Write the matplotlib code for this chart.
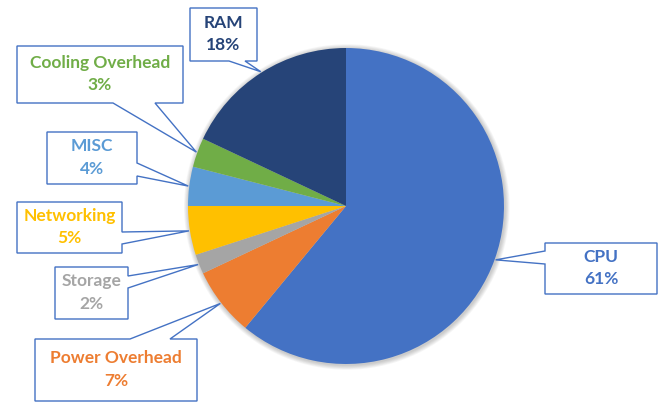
import numpy as np
import matplotlib
matplotlib.use("Agg")
import matplotlib.pyplot as plt
from matplotlib.patches import Polygon, Circle

# Share of total cost by component
categories = ["CPU", "Power Overhead", "Storage", "Networking", "MISC",
              "Cooling Overhead", "RAM"]
shares = [61, 7, 2, 5, 4, 3, 18]
colors = ["#4472C4", "#ED7D31", "#A5A5A5", "#FFC000", "#5B9BD5",
          "#70AD47", "#264478"]

W, H = 661, 403
fig = plt.figure(figsize=(W / 100, H / 100), dpi=100)
ax = fig.add_axes([0, 0, 1, 1])
ax.set_xlim(0, W)
ax.set_ylim(0, H)
ax.set_aspect("equal")
ax.axis("off")

cx, cy_pix, R = 346, 206, 158
cy = H - cy_pix

# soft shadow around the pie
for k in range(1, 7):
    ax.add_patch(Circle((cx + 0.8, cy - 1.0), R + k * 0.8, color="black",
                        alpha=0.035, lw=0, zorder=0))

ax.pie(shares, colors=colors, startangle=90, counterclock=False,
       center=(cx, cy), radius=R, frame=True,
       wedgeprops=dict(linewidth=0, edgecolor="none"))
ax.set_xlim(0, W)
ax.set_ylim(0, H)
ax.axis("off")

# callout boxes: (x0, y0, x1, y1) in pixels from top-left, side of the tail, tail base
callouts = {
    "RAM": ((190, 8, 257, 61), "bottom", (229, 245)),
    "Cooling Overhead": ((17, 46, 183, 103), "bottom", (113, 155)),
    "MISC": ((47, 132, 137, 184), "right", (163, 176)),
    "Networking": ((17, 202, 122, 253), "right", (232, 244)),
    "Storage": ((55, 267, 128, 319), "right", (276, 288)),
    "Power Overhead": ((35, 339, 197, 401), "top", (130, 170)),
    "CPU": ((545, 243, 657, 294), "left", (251, 264)),
}


def callout_vertices(box, side, base, tip):
    x0, y0, x1, y1 = box
    a, b = base
    if side == "bottom":
        pts = [(x0, y0), (x1, y0), (x1, y1), (b, y1), tip, (a, y1), (x0, y1)]
    elif side == "right":
        pts = [(x0, y0), (x1, y0), (x1, a), tip, (x1, b), (x1, y1), (x0, y1)]
    elif side == "top":
        pts = [(x0, y0), (a, y0), tip, (b, y0), (x1, y0), (x1, y1), (x0, y1)]
    else:
        pts = [(x0, y0), (x1, y0), (x1, y1), (x0, y1), (x0, b), tip, (x0, a)]
    return [(x, H - y) for x, y in pts]


total = float(sum(shares))
cum = 0.0
for name, val, col in zip(categories, shares, colors):
    mid = cum + val / 2.0
    cum += val
    ang = np.deg2rad(90 - 360 * mid / total)
    tip = (cx + (R + 1) * np.cos(ang), cy_pix - (R + 1) * np.sin(ang))
    box, side, base = callouts[name]
    verts = callout_vertices(box, side, base, tip)
    ax.add_patch(Polygon(verts, closed=True, facecolor="white",
                         edgecolor="#4472C4", lw=1.0, joinstyle="miter",
                         zorder=5))
    bx = (box[0] + box[2]) / 2
    by = H - (box[1] + box[3]) / 2 + 0.5
    ax.text(bx, by, f"{name}\n{val}%", ha="center", va="center",
            color=col, fontsize=12.5, fontweight="bold", family="Lato",
            linespacing=1.5, zorder=6)

fig.savefig("out.png", dpi=100)
